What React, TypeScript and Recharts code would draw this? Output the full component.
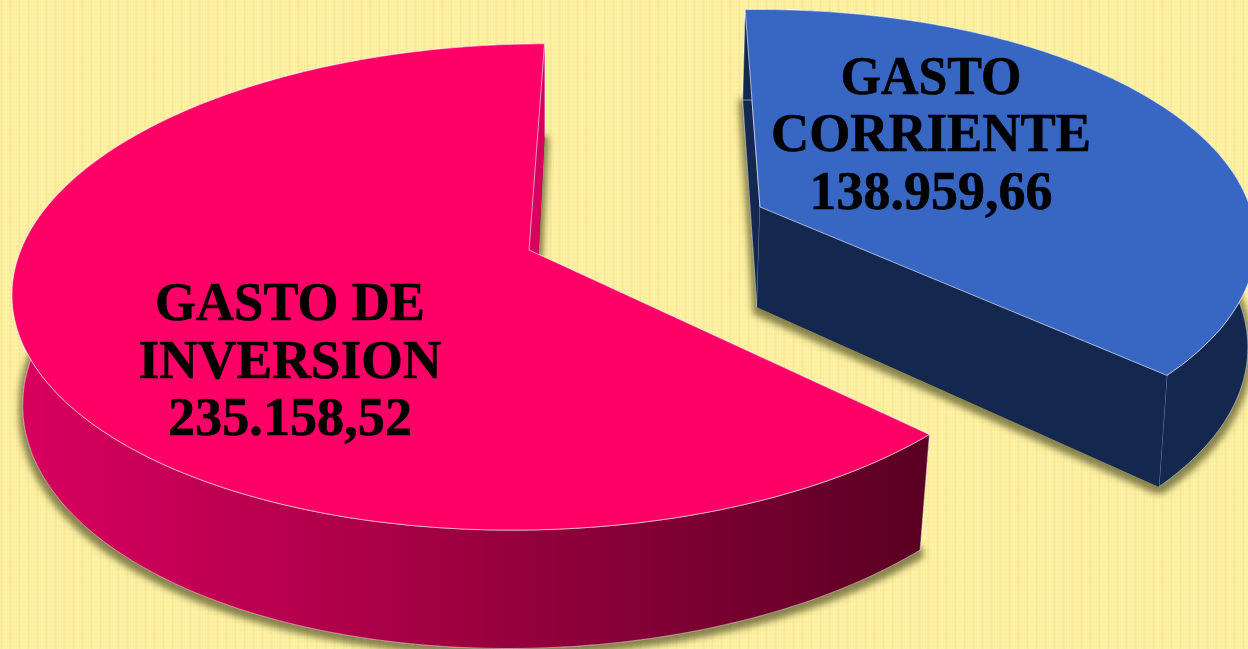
import { PieChart, Pie } from 'recharts'

const categories = ['GASTO DE INVERSION', 'GASTO CORRIENTE']
const categoryLines = [['GASTO DE', 'INVERSION'], ['GASTO', 'CORRIENTE']]
const values = [235158.52, 138959.66]

const chartData = categories.map((name, i) => ({ name, value: values[i] }))

type Face = { cx: number; cy: number; rx: number; ry: number; k: number; skew: number; lean: number }

// one top and one bottom face per slice, squashed with a bit of perspective
const sliceStyles = [
  {
    top: { cx: 529, cy: 250, rx: 511, ry: 237.4, k: 0.152, skew: -0.0155, lean: 0 },
    bottom: { cx: 533, cy: 366, rx: 508, ry: 252.7, k: 0.104, skew: -0.03, lean: -5 },
    topShift: 0,
    bottomShift: 0,
    topFill: '#ff0066',
    wallFill: 'url(#pinkWall)',
    edgeFill: '#d8005f',
    endFill: '#5e0024',
  },
  {
    top: { cx: 760, cy: 207, rx: 490, ry: 227.5, k: 0.152, skew: 0, lean: 0 },
    bottom: { cx: 757, cy: 307, rx: 484, ry: 238, k: 0.15, skew: 0, lean: -8 },
    topShift: 4,
    bottomShift: 3,
    topFill: '#3766c3',
    wallFill: '#13274f',
    edgeFill: '#13274f',
    endFill: '#13274f',
  },
]

const labelStyles = [
  { x: 290, baselines: [320, 378, 435], widths: [270, 303, 244] },
  { x: 931, baselines: [94, 151, 209], widths: [181, 320, 243] },
]

const EDGE = 'rgba(255,255,255,0.6)'

const project = (f: Face, deg: number) => {
  const a = (deg * Math.PI) / 180
  const u = Math.cos(a)
  const v = Math.sin(a)
  const d = 1 + f.k * v
  const dx = (f.rx * u) / d
  return [f.cx + dx + (f.lean * v) / d, f.cy - (f.ry * v) / d + f.skew * dx]
}

const arc = (f: Face, from: number, to: number) => {
  const pts: number[][] = []
  const n = Math.ceil(Math.abs(to - from))
  for (let i = 0; i <= n; i++) pts.push(project(f, from + ((to - from) * i) / n))
  return pts
}

const toPath = (pts: number[][]) =>
  'M' + pts.map((p) => `${p[0].toFixed(1)},${p[1].toFixed(1)}`).join('L') + 'Z'

function Slice3D(props: any) {
  const s = sliceStyles[props.index ?? 0]
  const topArc = arc(s.top, props.startAngle + s.topShift, props.endAngle + s.topShift)
  const botArc = arc(s.bottom, props.startAngle + s.bottomShift, props.endAngle + s.bottomShift)
  const tv = [s.top.cx, s.top.cy]
  const bv = [s.bottom.cx, s.bottom.cy]
  const tEnd = topArc[topArc.length - 1]
  const bEnd = botArc[botArc.length - 1]
  return (
    <g>
      <path d={toPath([bv, ...botArc])} fill={s.endFill} filter="url(#sliceShadow)" />
      <path d={toPath([tv, tEnd, bEnd, bv])} fill={s.endFill} stroke={EDGE} strokeWidth={0.8} />
      <path d={toPath([...topArc, ...[...botArc].reverse()])} fill={s.wallFill} stroke={EDGE} strokeWidth={0.8} />
      <path d={toPath([tv, topArc[0], botArc[0], bv])} fill={s.edgeFill} />
      <path d={toPath([tv, ...topArc])} fill={s.topFill} stroke={EDGE} strokeWidth={1} />
    </g>
  )
}

const formatValue = (v: number) =>
  v.toFixed(2).replace('.', ',').replace(/\B(?=(\d{3})(?!\d))/g, '.')

function SliceLabel(props: any) {
  const i = props.index
  const st = labelStyles[i]
  const lines = [...categoryLines[i], formatValue(values[i])]
  return (
    <g>
      {lines.map((line, n) => (
        <text
          key={line}
          x={st.x}
          y={st.baselines[n]}
          textAnchor="middle"
          textLength={st.widths[n]}
          lengthAdjust="spacingAndGlyphs"
          fontFamily="'Liberation Serif', serif"
          fontWeight="bold"
          fontSize={55}
          fill="#000000"
          stroke="#000000"
          strokeWidth={0.6}
        >
          {line}
        </text>
      ))}
    </g>
  )
}

export default function App() {
  return (
    <div
      style={{
        position: 'fixed',
        left: 0,
        top: 0,
        width: 1248,
        height: 649,
        overflow: 'hidden',
        backgroundColor: '#fdf2a6',
        backgroundImage:
          'radial-gradient(circle, rgba(240,214,120,0.35) 0.8px, transparent 1.2px), repeating-linear-gradient(90deg, rgba(240,214,120,0.2) 0 3px, transparent 3px 9px)',
        backgroundSize: '3px 4px, 9px 9px',
      }}
    >
      <PieChart width={1248} height={649} margin={{ top: 0, right: 0, bottom: 0, left: 0 }}>
        <defs>
          <linearGradient id="pinkWall" gradientUnits="userSpaceOnUse" x1="24" y1="0" x2="920" y2="0">
            <stop offset="0%" stopColor="#d8005f" />
            <stop offset="35%" stopColor="#b0004a" />
            <stop offset="100%" stopColor="#5a0022" />
          </linearGradient>
          <filter id="sliceShadow" x="-10%" y="-10%" width="120%" height="120%">
            <feMorphology in="SourceAlpha" operator="dilate" radius="4" result="wide" />
            <feGaussianBlur in="wide" stdDeviation="3" result="soft" />
            <feOffset in="soft" dx="0" dy="3" result="moved" />
            <feFlood floodColor="#4a4a20" floodOpacity="0.65" />
            <feComposite in2="moved" operator="in" result="shadow" />
            <feMerge>
              <feMergeNode in="shadow" />
              <feMergeNode in="SourceGraphic" />
            </feMerge>
          </filter>
        </defs>
        <Pie
          data={chartData}
          dataKey="value"
          nameKey="name"
          cx={529}
          cy={250}
          outerRadius={510}
          startAngle={88}
          endAngle={448}
          stroke="none"
          isAnimationActive={false}
          shape={Slice3D}
          label={SliceLabel}
          labelLine={false}
        />
      </PieChart>
    </div>
  )
}
